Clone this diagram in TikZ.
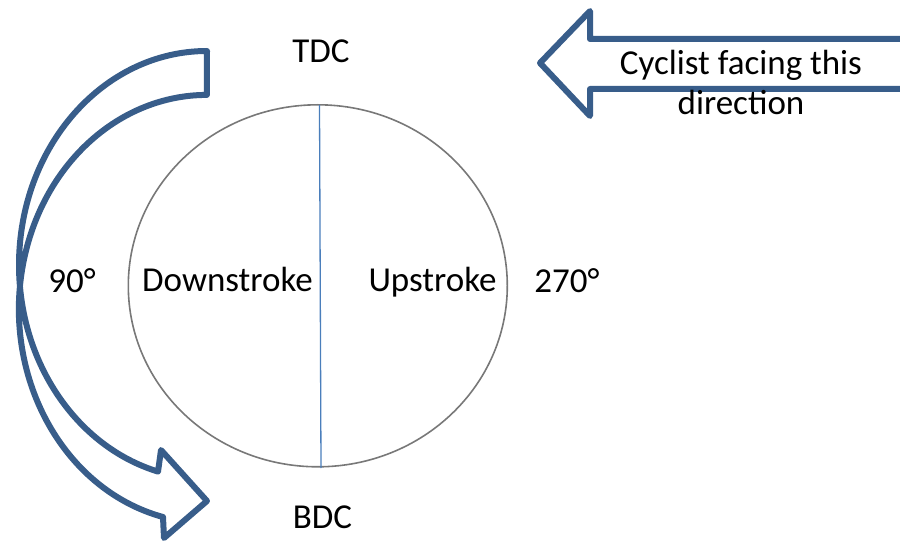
\documentclass[tikz,border=0pt]{standalone}
\usepackage{fontspec}
\setmainfont{Carlito}
\definecolor{arrowblue}{RGB}{56,93,138}
\definecolor{lineblue}{RGB}{74,126,187}
\definecolor{circgray}{RGB}{120,120,120}
\begin{document}
\begin{tikzpicture}[x=1pt,y=1pt,
  lbl/.style={font=\fontsize{35}{40}\selectfont, inner sep=0pt, anchor=base, text=black},
  bandarrow/.style={draw=arrowblue, line width=6pt, line join=round},
]
\useasboundingbox (0,0) rectangle (900,547);
\clip (0,0) rectangle (900,547);

% crank circle and dividing line
\draw[circgray, line width=1.6pt] (317.8,261.2) ellipse [x radius=189.5, y radius=181];
\coordinate (ctop) at (319.5,442);
\coordinate (cbot) at (321,79);
\draw[lineblue, line width=1.3pt] (ctop) -- (cbot);

% curved rotation arrow
\draw[bandarrow] (207,496) arc[start angle=90, end angle=254.9, x radius=188, y radius=214]
  -- (161,97) -- (207,46) -- (164,9) -- (163,30)
  arc[start angle=256.5, end angle=90, x radius=188, y radius=214] -- cycle;

% facing-direction arrow
\draw[bandarrow] (910,508) -- (590,508) -- (590,536) -- (540,484) -- (590,431) -- (590,458) -- (910,458);

% labels
\node[lbl] (tdc) at (321,484) {TDC};
\node[lbl] (bdc) at (322.5,19) {BDC};
\node[lbl] (d90) at (72,254) {90°};
\node[lbl] (d270) at (567,254) {270°};
\node[lbl] (down) at (227.5,255) {Downstroke};
\node[lbl] (up) at (432.5,255) {Upstroke};
\node[lbl] (cyc1) at (741,472) {Cyclist facing this};
\node[lbl] (cyc2) at (741,432) {direction};
\end{tikzpicture}
\end{document}
